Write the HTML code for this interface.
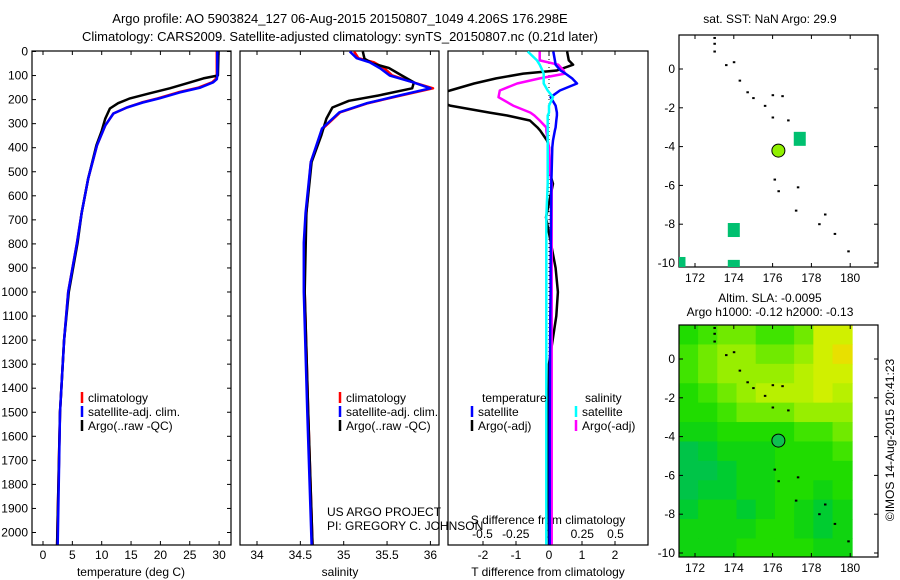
<!DOCTYPE html>
<html><head><meta charset="utf-8"><style>
body{margin:0;background:#fff}
svg{display:block;font-family:"Liberation Sans",sans-serif;font-size:12px}
</style></head><body>
<svg id="s" width="900" height="580" xmlns="http://www.w3.org/2000/svg">
<defs>
<clipPath id="c1"><rect x="32" y="51" width="199" height="494"/></clipPath>
<clipPath id="c2"><rect x="240" y="51" width="199" height="494"/></clipPath>
<clipPath id="c3"><rect x="448" y="51" width="200" height="494"/></clipPath>
<clipPath id="cm1"><rect x="679" y="35" width="199" height="232"/></clipPath>
<clipPath id="cm2"><rect x="679" y="325" width="199" height="232"/></clipPath>
</defs>
<text x="340" y="23" text-anchor="middle" font-size="13">Argo profile: AO 5903824_127 06-Aug-2015 20150807_1049 4.206S 176.298E</text>
<text x="340" y="41" text-anchor="middle" font-size="13">Climatology: CARS2009. Satellite-adjusted climatology: synTS_20150807.nc (0.21d later)</text>
<text x="770" y="23" text-anchor="middle">sat. SST: NaN Argo: 29.9</text>
<text x="770" y="302" text-anchor="middle">Altim. SLA: -0.0095</text>
<text x="770" y="316" text-anchor="middle">Argo h1000: -0.12 h2000: -0.13</text>
<text transform="translate(894,440) rotate(-90)" text-anchor="middle">©IMOS 14-Aug-2015 20:41:23</text>
<g id="g"></g>
</svg>
<script>
// ---- data ----
const depthT=[0,100,115,128,150,170,195,212,233,258,308,390,528,670,795,1000,1200,1500,2050];
const tempClim=[29.6,29.6,29.4,28.8,26.5,23.0,19.5,16.8,14.3,12.0,10.6,9.2,7.7,6.6,5.8,4.3,3.6,2.9,2.4];
const tempSat=[29.7,29.7,29.6,29.0,26.8,23.3,19.8,17.0,14.3,12.0,10.6,9.2,7.7,6.6,5.8,4.3,3.6,2.9,2.5];
const depthA=[0,100,112,130,153,175,195,215,237,280,330,390,528,670,795,1000,1200,1500,2050];
const tempArgo=[29.9,29.8,27.3,24.8,21.6,18.0,14.8,12.8,11.4,10.6,10.0,9.1,7.7,6.6,5.9,4.4,3.6,2.9,2.4];
const depthS=[0,28,45,70,100,128,153,183,216,253,320,460,670,795,1000,1500,2050];
const salClim=[35.12,35.17,35.35,35.47,35.56,35.8,36.03,35.66,35.27,34.96,34.76,34.62,34.57,34.55,34.55,34.59,34.64];
const salSat=[35.07,35.15,35.30,35.42,35.53,35.8,36.0,35.64,35.26,34.95,34.75,34.62,34.56,34.54,34.54,34.58,34.63];
const depthSA=[0,30,50,68,100,128,153,183,205,233,279,350,460,670,1000,1500,2050];
const salArgo=[35.22,35.24,35.33,35.52,35.67,35.81,35.79,35.4,35.06,34.87,34.8,34.74,34.63,34.57,34.55,34.59,34.64];
const depthD=[0,37,55,79,92,112,133,162,190,225,254,266,287,316,328,370,398,508,550,690,900,1000,1100,1300,1600,2050];
const tDiffArgo=[0.55,0.6,0.73,0.24,-0.78,-1.6,-2.27,-3.0,-3.6,-3.0,-1.8,-1.27,-0.58,-0.35,-0.27,-0.06,0.0,0.03,0.12,-0.09,0.2,0.27,0.22,0.0,-0.02,0.0];
const tDiffSat=[0.13,0.18,0.2,0.35,0.5,0.7,0.85,0.33,0.05,0.2,0.24,0.24,0.22,0.2,0.18,0.12,0.1,0.08,0.07,0.06,0.05,0.05,0.04,0.03,0.02,0.02];
const sDiffArgo=[-0.07,-0.07,0.07,0.11,0.12,-0.07,-0.24,-0.37,-0.38,-0.27,-0.14,-0.11,-0.07,-0.02,-0.02,-0.01,0.0,0.01,0.02,0.02,0.02,0.02,0.02,0.02,0.02,0.02];
const sDiffSat=[-0.16,-0.09,-0.07,-0.05,-0.04,-0.04,-0.04,-0.01,0.03,0.0,0.0,-0.01,-0.01,-0.01,-0.01,-0.01,-0.01,-0.01,-0.01,-0.02,-0.02,-0.02,-0.02,-0.02,-0.02,-0.02];
const depthTicks=[0,100,200,300,400,500,600,700,800,900,1000,1100,1200,1300,1400,1500,1600,1700,1800,1900,2000];
const tempTicks=[0,5,10,15,20,25,30];
const salTicks=[34,34.5,35,35.5,36];
const tdTicks=[-2,-1,0,1,2];
const sdTicks=[-0.5,-0.25,0,0.25,0.5];
const sdTickLabels=["-0.5","-0.25","0","0.25","0.5"];
const lonTicks=[172,174,176,178,180];
const latTicks=[0,-2,-4,-6,-8,-10];
const islandLon=[173,173,173,173.6,174,174.3,174.7,175,175.6,176,176.5,176,176.8,176.1,176.3,177.3,177.2,178.4,178.7,179.2,179.9];
const islandLat=[1.6,1.3,0.9,0.2,0.35,-0.6,-1.2,-1.5,-1.9,-1.35,-1.4,-2.5,-2.65,-5.7,-6.3,-6.1,-7.3,-8.0,-7.5,-8.5,-9.4];
const argoLon=176.298, argoLat=-4.206;
const sstBoxLon=[177.4,174,174,171.2], sstBoxLat=[-3.6,-8.3,-10.2,-10.05];
const slaLonEdges=[171.17,172.16,173.15,174.14,175.13,176.12,177.11,178.1,179.09,180.1];
const slaLatEdges=[1.75,0.75,-0.25,-1.25,-2.25,-3.25,-4.25,-5.25,-6.25,-7.25,-8.25,-9.25,-10.25];
const slaGrid=[
[4,5,6,6,5,5,6,9,9],
[5,6,7,7,6,6,7,9,10],
[5,6,7,7,7,7,8,9,9],
[4,5,6,7,8,8,8,9,8],
[4,4,5,6,6,6,7,7,7],
[3,3,4,4,4,4,5,5,6],
[1,2,3,3,3,4,4,4,5],
[1,1,2,3,3,4,4,4,4],
[1,2,2,3,3,4,4,3,4],
[2,3,3,2,3,4,3,2,3],
[3,3,3,3,4,4,3,2,3],
[3,3,3,4,4,4,4,3,3]];
// ---- scales ----
const yD=d=>51.5+d*0.2405;
const xT=t=>43+t*5.87;
const xS=s=>257+(s-34)*86.7;
const xTD=t=>549+t*33;
const xSD=s=>549+s*133;
const mx=l=>695+(l-172)*19.4;
const my1=l=>69-l*19.4;
const my2=l=>359-l*19.4;
const NS="http://www.w3.org/2000/svg";
const G=document.getElementById('g');
function el(tag,attrs,parent,txt){const e=document.createElementNS(NS,tag);for(const k in attrs)e.setAttribute(k,attrs[k]);if(txt!==undefined)e.textContent=txt;(parent||G).appendChild(e);return e;}
function line(xs,ys,fx,fy,color,clip,name,w){
  const p=xs.map((v,i)=>fx(v).toFixed(1)+','+fy(ys[i]).toFixed(1)).join(' ');
  const e=el('polyline',{points:p,fill:'none',stroke:color,'stroke-width':w||2.5,'clip-path':'url(#'+clip+')','stroke-linejoin':'round'});
  
  
}
function frame(x,y,w,h,name){const e=el('rect',{x:x,y:y,width:w,height:h,fill:'none',stroke:'#000','stroke-width':1.2});
  
  }
// panel 1
frame(32,51,199,494,'temperature-panel');
depthTicks.forEach(d=>{el('line',{x1:32,x2:36,y1:yD(d),y2:yD(d),stroke:'#000'});el('line',{x1:227,x2:231,y1:yD(d),y2:yD(d),stroke:'#000'});
  const t=el('text',{x:28,y:yD(d)+4,'text-anchor':'end'},G,String(d));
  
  });
tempTicks.forEach(v=>{el('line',{x1:xT(v),x2:xT(v),y1:51,y2:55,stroke:'#000'});el('line',{x1:xT(v),x2:xT(v),y1:541,y2:545,stroke:'#000'});
  const t=el('text',{x:xT(v),y:559,'text-anchor':'middle'},G,String(v));
  
  });
el('text',{x:131,y:576,'text-anchor':'middle',},G,'temperature (deg C)');
line(tempClim,depthT,xT,yD,'#f00','c1','temp-climatology-line');
line(tempArgo,depthA,xT,yD,'#000','c1','temp-argo-line');
line(tempSat,depthT,xT,yD,'#00f','c1','temp-satellite-line');
// panel 2
frame(240,51,199,494,'salinity-panel');
salTicks.forEach(v=>{el('line',{x1:xS(v),x2:xS(v),y1:51,y2:55,stroke:'#000'});el('line',{x1:xS(v),x2:xS(v),y1:541,y2:545,stroke:'#000'});
  const t=el('text',{x:xS(v),y:559,'text-anchor':'middle'},G,String(v));
  
  });
el('text',{x:340,y:576,'text-anchor':'middle',},G,'salinity');
line(salClim,depthS,xS,yD,'#f00','c2','sal-climatology-line');
line(salArgo,depthSA,xS,yD,'#000','c2','sal-argo-line');
line(salSat,depthS,xS,yD,'#00f','c2','sal-satellite-line');
el('text',{x:327,y:516,},G,'US ARGO PROJECT');
el('text',{x:327,y:530,},G,'PI: GREGORY C. JOHNSON');
// panel 3
frame(448,51,200,494,'difference-panel');
tdTicks.forEach(v=>{el('line',{x1:xTD(v),x2:xTD(v),y1:51,y2:55,stroke:'#000'});el('line',{x1:xTD(v),x2:xTD(v),y1:541,y2:545,stroke:'#000'});
  const t=el('text',{x:xTD(v),y:559,'text-anchor':'middle'},G,String(v));
  
  });
sdTicks.forEach((v,i)=>{const t=el('text',{x:xSD(v),y:538,'text-anchor':'middle'},G,sdTickLabels[i]);
  
  });
el('text',{x:548,y:524,'text-anchor':'middle',},G,'S difference from climatology');
el('text',{x:548,y:576,'text-anchor':'middle',},G,'T difference from climatology');
el('line',{x1:549,x2:549,y1:51,y2:545,stroke:'#000','stroke-dasharray':'1,3'});
line(tDiffArgo,depthD,xTD,yD,'#000','c3','tdiff-argo-line');
line(sDiffArgo,depthD,xSD,yD,'#f0f','c3','sdiff-argo-line');
line(tDiffSat,depthD,xTD,yD,'#00f','c3','tdiff-satellite-line');
line(sDiffSat,depthD,xSD,yD,'#0ff','c3','sdiff-satellite-line');
// legends
function leg(x,y,c,label,name){el('line',{x1:x,x2:x,y1:y-10,y2:y+1,stroke:c,'stroke-width':2.5});
  const t=el('text',{x:x+6,y:y},G,label);
  
  }
[[82,'climatology','#f00'],[340,'climatology','#f00']].forEach(a=>leg(a[0],402,a[2],a[1],'legend-climatology'));
leg(82,416,'#00f','satellite-adj. clim.','legend-satellite');leg(340,416,'#00f','satellite-adj. clim.','legend-satellite');
leg(82,430,'#000','Argo(..raw -QC)','legend-argo');leg(340,430,'#000','Argo(..raw -QC)','legend-argo');
el('text',{x:482,y:402,},G,'temperature');
el('text',{x:585,y:402,},G,'salinity');
leg(472,416,'#00f','satellite','legend-t-satellite');leg(576,416,'#0ff','satellite','legend-s-satellite');
leg(472,430,'#000','Argo(-adj)','legend-t-argo');leg(576,430,'#f0f','Argo(-adj)','legend-s-argo');
// maps
function mapAxes(y0,h,my,name){
  frame(679,y0,199,h,name);
  lonTicks.forEach(l=>{el('line',{x1:mx(l),x2:mx(l),y1:y0,y2:y0+4,stroke:'#000'});el('line',{x1:mx(l),x2:mx(l),y1:y0+h-4,y2:y0+h,stroke:'#000'});
    const t=el('text',{x:mx(l),y:y0+h+15,'text-anchor':'middle'},G,String(l));
    
    });
  latTicks.forEach(l=>{el('line',{x1:679,x2:683,y1:my(l),y2:my(l),stroke:'#000'});el('line',{x1:874,x2:878,y1:my(l),y2:my(l),stroke:'#000'});
    const t=el('text',{x:675,y:my(l)+4,'text-anchor':'end'},G,String(l));
    
    });
}
// sla heatmap
const ramp=[[0,180,104],[0,196,72],[0,204,48],[16,212,16],[32,220,0],[64,228,0],[112,234,0],[152,238,0],[184,240,0],[208,240,0],[232,224,0]];
slaGrid.forEach((row,r)=>row.forEach((v,c)=>{const k=ramp[v];
  const x0=mx(slaLonEdges[c]),x1=mx(slaLonEdges[c+1]),y0=my2(slaLatEdges[r]),y1=my2(slaLatEdges[r+1]);
  const e=el('rect',{x:x0,y:y0,width:x1-x0+0.5,height:y1-y0+0.5,fill:'rgb('+k.join(',')+')','clip-path':'url(#cm2)'});
  
  }));
mapAxes(35,232,my1,'sst-map');
mapAxes(325,232,my2,'sla-map');
sstBoxLon.forEach((l,i)=>{const e=el('rect',{x:mx(l)-6,y:my1(sstBoxLat[i])-7,width:12,height:14,fill:'#00c070','clip-path':'url(#cm1)'});
  
  });
islandLon.forEach((l,i)=>{[my1,my2].forEach(f=>{const e=el('rect',{x:mx(l)-1,y:f(islandLat[i])-1,width:2.5,height:2,fill:'#000'});
  
  });});
let c=el('circle',{cx:mx(argoLon),cy:my1(argoLat),r:6.5,fill:'#90f000',stroke:'#000'});


c=el('circle',{cx:mx(argoLon),cy:my2(argoLat),r:6.5,fill:'#10c050',stroke:'#000'});


</script>
</body></html>
